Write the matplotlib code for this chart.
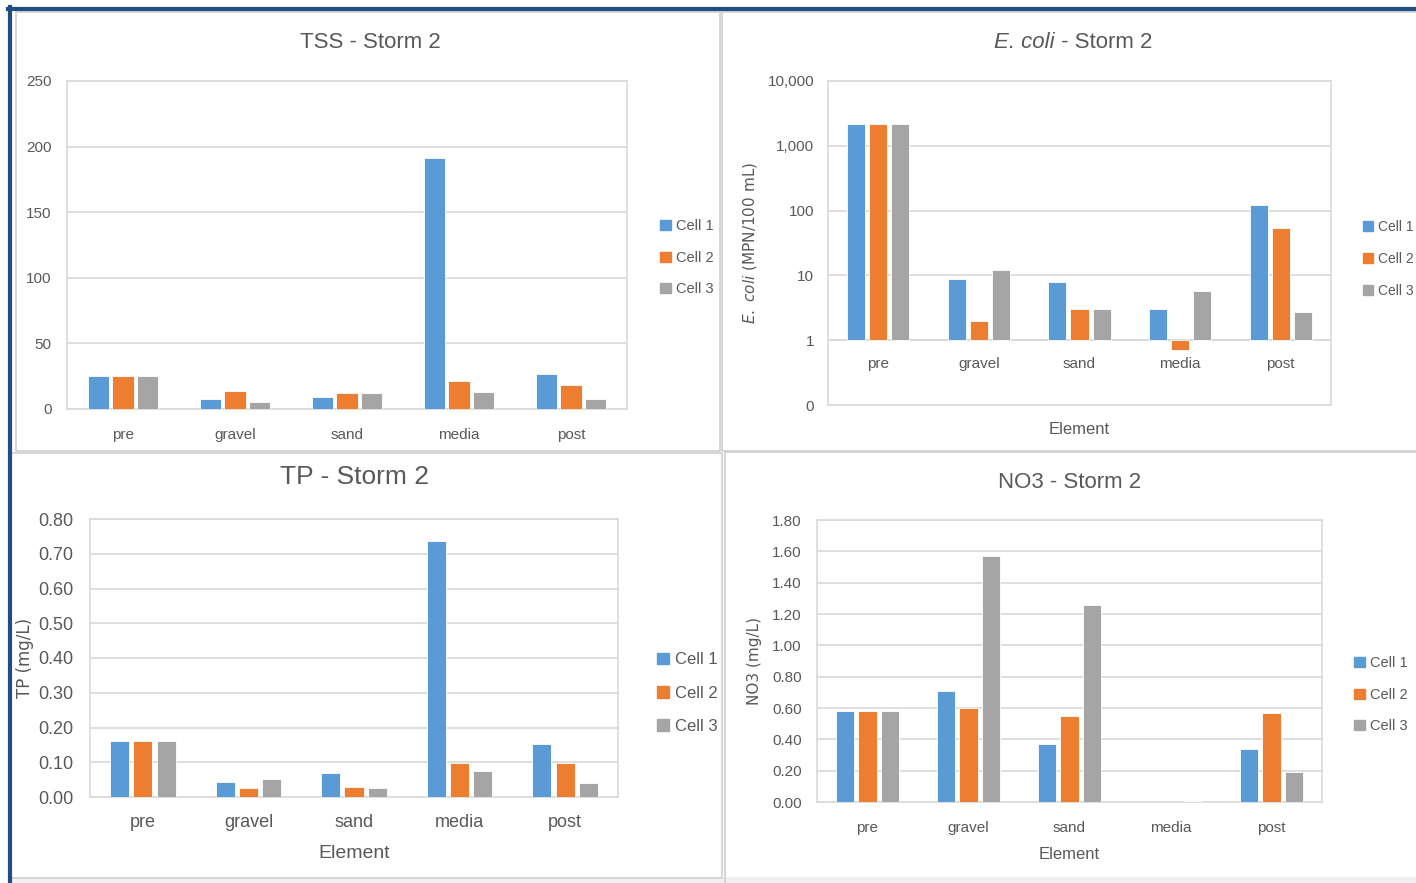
import matplotlib.pyplot as plt
import matplotlib.patches as mpatches
from matplotlib.lines import Line2D
import numpy as np

plt.rcParams['font.family'] = ['Liberation Sans', 'DejaVu Sans']

elements = ['pre', 'gravel', 'sand', 'media', 'post']
cells = ['Cell 1', 'Cell 2', 'Cell 3']
colors = ['#5B9BD5', '#ED7D31', '#A5A5A5']

tss_cell1 = [25, 8, 9.5, 191, 26.5]
tss_cell2 = [25, 14, 12, 21.5, 18]
tss_cell3 = [25, 5.5, 12, 13, 8]

ecoli_cell1 = [2200, 8.7, 7.8, 3.0, 124]
ecoli_cell2 = [2200, 2.0, 3.0, 0.7, 53]
ecoli_cell3 = [2200, 12, 3.0, 5.7, 2.7]

tp_cell1 = [0.16, 0.044, 0.07, 0.736, 0.152]
tp_cell2 = [0.16, 0.027, 0.03, 0.099, 0.099]
tp_cell3 = [0.16, 0.053, 0.025, 0.076, 0.039]

no3_cell1 = [0.58, 0.71, 0.37, 0.0, 0.34]
no3_cell2 = [0.58, 0.60, 0.55, 0.0, 0.57]
no3_cell3 = [0.58, 1.57, 1.26, 0.006, 0.19]

W, H = 1416, 883
TXT = '#595959'
GRID = '#D9D9D9'

fig = plt.figure(figsize=(W / 100, H / 100), dpi=100)
fig.patch.set_facecolor('white')


def px_rect(x0, y0, x1, y1):
    return [x0 / W, 1 - y1 / H, (x1 - x0) / W, (y1 - y0) / H]


def fig_line(xs, ys, color, lw):
    fig.add_artist(Line2D([x / W for x in xs], [1 - y / H for y in ys],
                          color=color, lw=lw, transform=fig.transFigure))


# background strip and panel borders
fig.add_artist(mpatches.Rectangle((11 / W, 0), 1, 6 / H, transform=fig.transFigure,
                                  color='#F0F0F0', lw=0))
for (x0, y0, x1, y1) in [(16, 12, 720, 451), (722, 12, 1420, 451),
                         (11, 453, 722, 878), (725, 452, 1420, 890)]:
    fig.add_artist(mpatches.Rectangle((x0 / W, 1 - y1 / H), (x1 - x0) / W, (y1 - y0) / H,
                                      transform=fig.transFigure, fill=False,
                                      edgecolor='#D0D0D0', lw=1.2))
fig_line([8, 1416], [8.5, 8.5], '#1F4E80', 3)
fig_line([9.5, 9.5], [7, 883], '#1F4E80', 3)


def style_axes(ax, fs):
    ax.set_facecolor('white')
    for s in ax.spines.values():
        s.set_color(GRID)
        s.set_linewidth(1.2)
    ax.grid(axis='y', color=GRID, lw=1.2)
    ax.set_axisbelow(True)
    ax.tick_params(length=0, colors=TXT, labelsize=fs, pad=6)


def draw_bars(ax, series, width, offset, bottom=0):
    x = np.arange(len(elements))
    for i, vals in enumerate(series):
        vals = np.array(vals, dtype=float)
        ax.bar(x + (i - 1) * offset, vals - bottom, width, bottom=bottom,
               color=colors[i], edgecolor='white', lw=0.6, label=cells[i], zorder=3)
    ax.set_xlim(-0.5, len(elements) - 0.5)
    ax.set_xticks(x)
    ax.set_xticklabels(elements)


def add_legend(x, y, fs, gap):
    handles = [mpatches.Patch(color=c) for c in colors]
    fig.legend(handles, cells, loc='upper left', bbox_to_anchor=(x / W, 1 - y / H),
               frameon=False, fontsize=fs, labelcolor=TXT, handlelength=0.7,
               handleheight=0.7, handletextpad=0.35, labelspacing=gap, borderpad=0)


# TSS
ax1 = fig.add_axes(px_rect(67, 81, 627, 409))
style_axes(ax1, 11)
draw_bars(ax1, [tss_cell1, tss_cell2, tss_cell3], 0.19, 0.22)
ax1.set_ylim(0, 250)
ax1.set_yticks([0, 50, 100, 150, 200, 250])
ax1.tick_params(axis='x', pad=14)
ax1.tick_params(axis='y', pad=11)
fig.text(370 / W, 1 - 42 / H, 'TSS - Storm 2', ha='center', va='center', fontsize=16, color=TXT)
add_legend(653, 212, 10.5, 1.2)

# E. coli
ax2 = fig.add_axes(px_rect(828, 81, 1331, 405))
style_axes(ax2, 11)
draw_bars(ax2, [ecoli_cell1, ecoli_cell2, ecoli_cell3], 0.18, 0.22, bottom=1)
ax2.set_yscale('log')
ax2.set_ylim(0.1, 10000)
ax2.set_yticks([0.1, 1, 10, 100, 1000, 10000])
ax2.set_yticklabels(['0', '1', '10', '100', '1,000', '10,000'])
ax2.minorticks_off()
ax2.tick_params(axis='y', pad=10)
ax2.set_xticklabels([])
for i, name in enumerate(elements):
    ax2.annotate(name, (i, 1), xytext=(0, -17), textcoords='offset points', ha='center',
                 va='center', fontsize=11, color=TXT)
ax2.axhline(1, color=GRID, lw=1.2, zorder=2)
ax2.set_xlabel('Element', fontsize=12, color=TXT, labelpad=6)
ax2.set_ylabel('$\\it{E.\\ coli}$ (MPN/100 mL)', fontsize=11, color=TXT, labelpad=6,
               family='DejaVu Sans')
fig.text(1055 / W, 1 - 42 / H, 'E. coli', ha='right', va='center', fontsize=16, color=TXT,
         style='italic')
fig.text(1055 / W, 1 - 42 / H, ' - Storm 2', ha='left', va='center', fontsize=16, color=TXT)
add_legend(1356, 213, 10, 1.3)

# TP
ax3 = fig.add_axes(px_rect(90, 519, 618, 797))
style_axes(ax3, 13)
draw_bars(ax3, [tp_cell1, tp_cell2, tp_cell3], 0.18, 0.22)
ax3.set_ylim(0, 0.8)
ax3.set_yticks(np.arange(0, 0.81, 0.1))
ax3.set_yticklabels([f'{v:.2f}' for v in np.arange(0, 0.81, 0.1)])
ax3.tick_params(axis='x', pad=12)
ax3.tick_params(axis='y', pad=12)
ax3.set_xlabel('Element', fontsize=14, color=TXT, labelpad=10)
ax3.set_ylabel('TP (mg/L)', fontsize=12, color=TXT, labelpad=3, family='DejaVu Sans')
fig.text(355 / W, 1 - 477 / H, 'TP - Storm 2', ha='center', va='center', fontsize=19, color=TXT)
add_legend(649, 644, 12, 1.1)

# NO3
ax4 = fig.add_axes(px_rect(817, 520, 1322, 802))
style_axes(ax4, 11)
draw_bars(ax4, [no3_cell1, no3_cell2, no3_cell3], 0.18, 0.22)
ax4.set_ylim(0, 1.8)
ax4.set_yticks(np.arange(0, 1.81, 0.2))
ax4.set_yticklabels([f'{v:.2f}' for v in np.arange(0, 1.81, 0.2)])
ax4.tick_params(axis='x', pad=14)
ax4.tick_params(axis='y', pad=11)
ax4.set_xlabel('Element', fontsize=12, color=TXT, labelpad=8)
ax4.set_ylabel('NO3 (mg/L)', fontsize=11, color=TXT, labelpad=7, family='DejaVu Sans')
fig.text(1070 / W, 1 - 483 / H, 'NO3 - Storm 2', ha='center', va='center', fontsize=16, color=TXT)
add_legend(1347, 649, 10.5, 1.2)

fig.savefig('out.png', dpi=100, facecolor='white')
